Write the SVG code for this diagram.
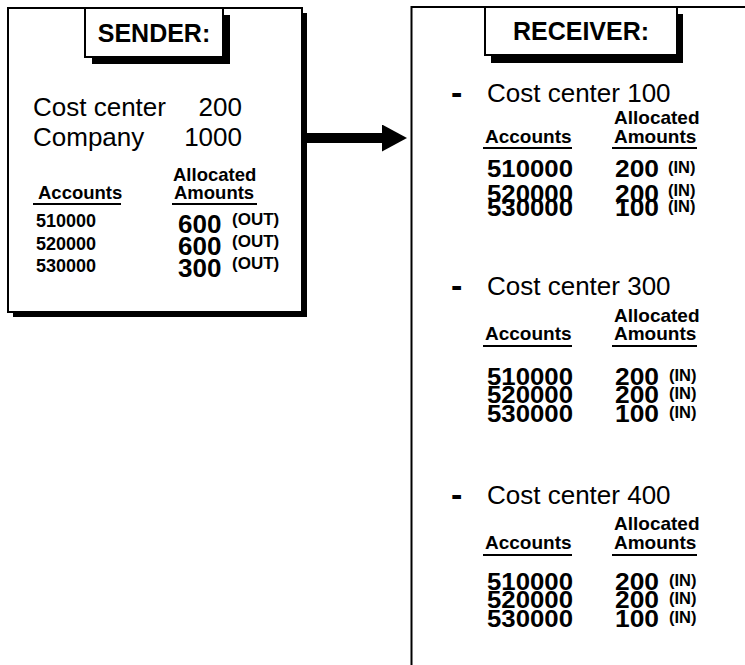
<svg xmlns="http://www.w3.org/2000/svg" width="745" height="665" viewBox="0 0 745 665">
<style>
  text { font-family: "Liberation Sans", Arial, sans-serif; fill: #000; }
  .title { font-size: 25px; font-weight: bold; text-anchor: middle; }
  .big { font-size: 26px; }
  .hdr { font-size: 18.5px; font-weight: bold; }
  .rhdr { font-size: 19px; font-weight: bold; }
  .acc { font-size: 18px; font-weight: bold; }
  .num { font-size: 26px; font-weight: bold; }
  .rnum { font-size: 23.5px; font-weight: bold; }
  .tag { font-size: 17px; font-weight: bold; }
  .tagin { font-size: 16.5px; font-weight: bold; }
  .dash { font-size: 34px; font-weight: bold; }
  .box { fill: #fff; stroke: #000; stroke-width: 2; }
  .shadow { fill: #000; }
  .ul { stroke: #000; stroke-width: 2; }
</style>
<defs>
  <marker id="head" markerUnits="userSpaceOnUse" markerWidth="26" markerHeight="28" refX="0" refY="13.5" orient="auto">
    <path d="M0,0 L25,13.5 L0,27 Z" fill="#000"/>
  </marker>
</defs>
<rect width="745" height="665" fill="#fff"/>

<g id="sender">
  <rect class="shadow" x="13" y="13" width="294" height="304"/>
  <rect class="box" x="8" y="8" width="294" height="304"/>
  <rect class="shadow" x="92" y="15" width="138" height="49"/>
  <rect class="box" x="85" y="8" width="138" height="49"/>
  <text class="title" x="154" y="42">SENDER:</text>
  <text class="big" x="33" y="116">Cost center</text>
  <text class="big" x="242" y="116" text-anchor="end">200</text>
  <text class="big" x="33" y="146">Company</text>
  <text class="big" x="242" y="146" text-anchor="end">1000</text>
  <text class="hdr" x="173" y="181">Allocated</text>
  <text class="hdr" x="38" y="199">Accounts</text>
  <line class="ul" x1="33" y1="204" x2="121" y2="204"/>
  <text class="hdr" x="174" y="199">Amounts</text>
  <line class="ul" x1="172" y1="204" x2="257" y2="204"/>
  <text class="acc" x="36" y="227">510000</text>
  <text class="acc" x="36" y="249.5">520000</text>
  <text class="acc" x="36" y="272">530000</text>
  <text class="num" x="178" y="233">600</text>
  <text class="num" x="178" y="255">600</text>
  <text class="num" x="178" y="277">300</text>
  <text class="tag" x="232" y="224.5">(OUT)</text>
  <text class="tag" x="232" y="246.5">(OUT)</text>
  <text class="tag" x="232" y="269">(OUT)</text>
</g>

<g id="connectors">
  <line x1="305" y1="138" x2="382" y2="138" stroke="#000" stroke-width="10" marker-end="url(#head)"/>
</g>

<g id="receiver">
  <rect class="box" x="411.5" y="7" width="400" height="700" stroke-width="2.5"/>
  <rect class="shadow" x="491" y="14" width="192" height="49"/>
  <rect class="box" x="485" y="7" width="192" height="48"/>
  <text class="title" x="581" y="40">RECEIVER:</text>

  <g id="cc100">
    <text class="dash" x="451" y="104">-</text>
    <text class="big" x="487" y="102">Cost center 100</text>
    <text class="rhdr" x="614" y="124">Allocated</text>
    <text class="rhdr" x="485" y="143">Accounts</text>
    <line class="ul" x1="483" y1="148" x2="572" y2="148"/>
    <text class="rhdr" x="614" y="143">Amounts</text>
    <line class="ul" x1="612" y1="148" x2="697" y2="148"/>
    <text class="rnum" x="487" y="177" textLength="86" lengthAdjust="spacingAndGlyphs">510000</text>
    <text class="rnum" x="487" y="202" textLength="86" lengthAdjust="spacingAndGlyphs">520000</text>
    <text class="rnum" x="487" y="216" textLength="86" lengthAdjust="spacingAndGlyphs">530000</text>
    <text class="rnum" x="615" y="177" textLength="44" lengthAdjust="spacingAndGlyphs">200</text>
    <text class="rnum" x="615" y="202" textLength="44" lengthAdjust="spacingAndGlyphs">200</text>
    <text class="rnum" x="615" y="216" textLength="44" lengthAdjust="spacingAndGlyphs">100</text>
    <text class="tagin" x="668" y="173">(IN)</text>
    <text class="tagin" x="668" y="196">(IN)</text>
    <text class="tagin" x="668" y="212">(IN)</text>
  </g>

  <g id="cc300">
    <text class="dash" x="451" y="297">-</text>
    <text class="big" x="487" y="295">Cost center 300</text>
    <text class="rhdr" x="614" y="322">Allocated</text>
    <text class="rhdr" x="485" y="340">Accounts</text>
    <line class="ul" x1="483" y1="346" x2="572" y2="346"/>
    <text class="rhdr" x="614" y="340">Amounts</text>
    <line class="ul" x1="612" y1="346" x2="697" y2="346"/>
    <text class="rnum" x="487" y="384.5" textLength="86" lengthAdjust="spacingAndGlyphs">510000</text>
    <text class="rnum" x="487" y="403.25" textLength="86" lengthAdjust="spacingAndGlyphs">520000</text>
    <text class="rnum" x="487" y="422" textLength="86" lengthAdjust="spacingAndGlyphs">530000</text>
    <text class="rnum" x="615" y="384.5" textLength="44" lengthAdjust="spacingAndGlyphs">200</text>
    <text class="rnum" x="615" y="403.25" textLength="44" lengthAdjust="spacingAndGlyphs">200</text>
    <text class="rnum" x="615" y="422" textLength="44" lengthAdjust="spacingAndGlyphs">100</text>
    <text class="tagin" x="669" y="380.5">(IN)</text>
    <text class="tagin" x="669" y="399.25">(IN)</text>
    <text class="tagin" x="669" y="418">(IN)</text>
  </g>

  <g id="cc400">
    <text class="dash" x="451" y="506">-</text>
    <text class="big" x="487" y="504">Cost center 400</text>
    <text class="rhdr" x="614" y="530">Allocated</text>
    <text class="rhdr" x="485" y="549">Accounts</text>
    <line class="ul" x1="483" y1="555" x2="572" y2="555"/>
    <text class="rhdr" x="614" y="549">Amounts</text>
    <line class="ul" x1="612" y1="555" x2="697" y2="555"/>
    <text class="rnum" x="487" y="589.5" textLength="86" lengthAdjust="spacingAndGlyphs">510000</text>
    <text class="rnum" x="487" y="608.25" textLength="86" lengthAdjust="spacingAndGlyphs">520000</text>
    <text class="rnum" x="487" y="627" textLength="86" lengthAdjust="spacingAndGlyphs">530000</text>
    <text class="rnum" x="615" y="589.5" textLength="44" lengthAdjust="spacingAndGlyphs">200</text>
    <text class="rnum" x="615" y="608.25" textLength="44" lengthAdjust="spacingAndGlyphs">200</text>
    <text class="rnum" x="615" y="627" textLength="44" lengthAdjust="spacingAndGlyphs">100</text>
    <text class="tagin" x="669" y="585.5">(IN)</text>
    <text class="tagin" x="669" y="604.25">(IN)</text>
    <text class="tagin" x="669" y="623">(IN)</text>
  </g>
</g>
</svg>
